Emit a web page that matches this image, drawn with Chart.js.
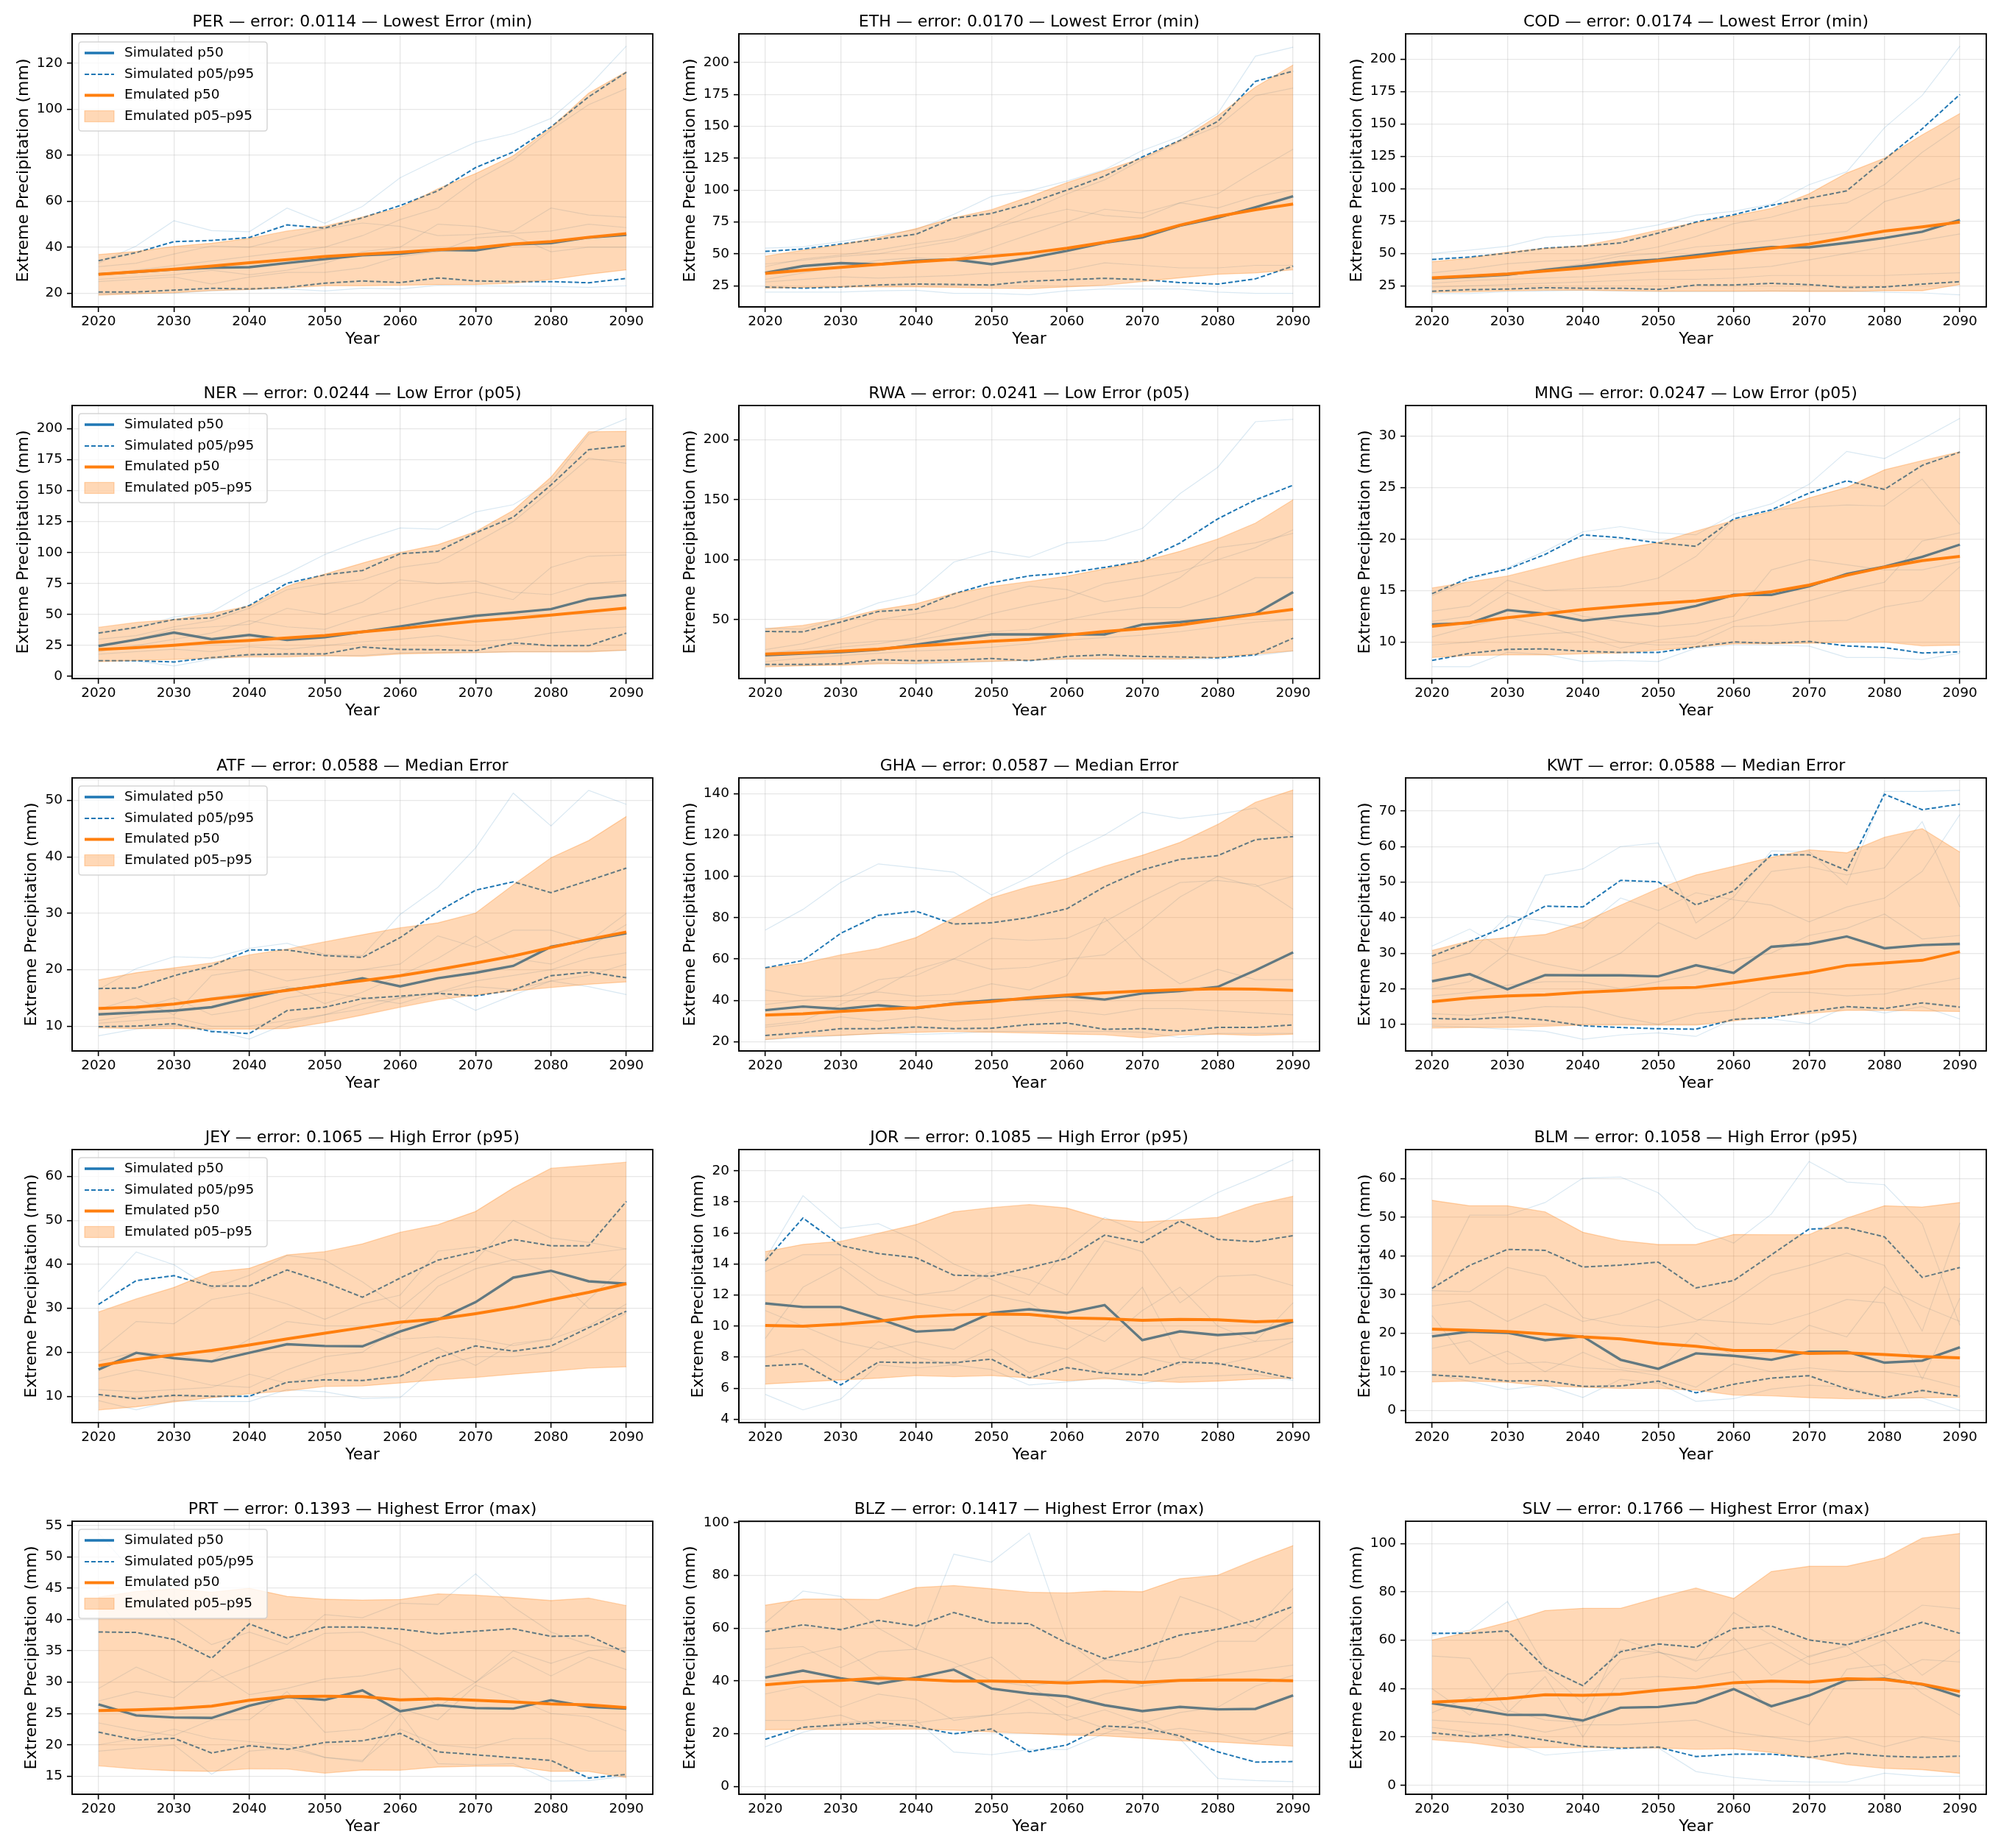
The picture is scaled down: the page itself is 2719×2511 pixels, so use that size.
<!DOCTYPE html>
<html><head><meta charset="utf-8">
<script src="https://cdn.jsdelivr.net/npm/chart.js@4.4.1/dist/chart.umd.min.js"></script>
<style>
html,body{margin:0;padding:0;background:#fff;}
#page{position:relative;width:2719px;height:2511px;background:#fff;overflow:hidden;}
#page canvas{position:absolute;}
</style></head><body><div id="page"></div>
<script>
// ---------------- data ----------------
const YEARS = [2020,2025,2030,2035,2040,2045,2050,2055,2060,2065,2070,2075,2080,2085,2090];
const X_TICKS = [2020,2030,2040,2050,2060,2070,2080,2090];

// PER
const perTitle = 'PER — error: 0.0114 — Lowest Error (min)';
const perSim50 = [28.2,29.2,30.3,31.0,31.3,33.1,34.8,36.5,37.1,38.8,38.6,41.2,41.8,44.2,45.4];
const perSim05 = [20.5,20.5,21.3,22.1,21.8,22.5,24.3,25.3,24.6,26.6,25.3,25.0,25.0,24.5,26.4];
const perSim95 = [34.1,37.6,42.4,42.9,44.2,49.7,48.3,52.8,58.1,64.5,74.6,81.4,92.3,105.4,116.1];
const perEmu50 = [28.2,29.3,30.4,31.8,33.2,34.6,35.9,36.9,37.8,38.9,39.7,41.4,42.4,44.3,45.9];
const perEmu05 = [19.1,19.7,20.2,21.1,21.6,22.3,23.2,23.2,23.4,23.7,23.7,24.3,25.9,28.2,30.1];
const perEmu95 = [36.8,38.1,40.3,41.7,43.8,47.0,49.1,53.1,57.1,65.4,72.0,79.8,92.0,107.0,116.4];
const perMembers = [
 [33.0,40.5,51.5,47.2,46.7,57.0,50.4,57.7,70.2,78.2,85.6,89.4,96.0,110.0,127.5],
 [19.5,19.8,20.0,21.0,21.6,21.8,20.9,22.1,21.8,23.4,23.2,23.0,22.9,22.5,23.2],
 [31.5,33.0,37.0,40.5,40.0,44.0,48.0,50.5,49.0,45.0,45.5,47.0,57.0,54.0,53.0],
 [26.0,27.0,28.0,30.0,28.0,30.0,33.0,38.0,40.0,50.0,49.0,46.0,47.0,50.0,48.5],
 [25.0,26.0,27.0,24.0,27.0,29.0,29.0,31.0,36.0,38.0,44.0,45.0,38.0,40.0,40.0],
 [28.0,30.0,32.0,34.0,36.0,38.0,40.0,45.0,52.0,57.0,69.0,78.0,91.0,102.0,109.0]];
const perYTicks = [20,40,60,80,100,120];
const perYRange = [14.0,132.8];

// ETH
const ethTitle = 'ETH — error: 0.0170 — Lowest Error (min)';
const ethSim50 = [35.2,40.4,42.7,41.7,44.6,45.6,41.9,46.7,52.3,58.7,62.9,72.1,78.3,86.5,95.2];
const ethSim05 = [24.0,23.1,24.0,25.6,26.3,26.0,25.6,28.5,29.8,30.8,29.8,27.5,26.3,30.4,40.4];
const ethSim95 = [51.9,53.8,57.7,61.5,65.4,77.9,81.7,89.8,100.0,111.0,126.0,139.0,153.8,185.2,193.3];
const ethEmu50 = [34.6,37.1,39.4,41.7,43.7,45.6,48.1,50.6,54.4,59.0,64.4,72.5,79.4,84.6,89.0];
const ethEmu05 = [23.1,23.7,24.0,24.0,24.0,23.7,23.1,22.7,24.0,25.4,28.3,31.2,34.0,35.0,37.5];
const ethEmu95 = [48.1,52.9,57.1,62.9,69.8,78.3,84.6,94.8,105.8,115.4,125.0,139.0,158.3,180.8,198.1];
const ethMembers = [
 [54.5,55.5,59.5,64.5,69.0,81.0,95.0,99.5,107.0,116.0,131.0,142.0,160.0,205.0,212.0],
 [20.0,20.0,20.0,21.0,21.5,19.0,19.0,18.0,21.0,22.5,22.5,22.5,20.0,19.0,19.0],
 [40.0,46.0,49.0,53.0,58.0,62.0,70.0,84.0,97.0,108.0,124.0,138.0,150.0,174.0,180.0],
 [30.0,35.0,40.0,45.0,47.0,45.0,55.0,65.0,75.0,85.0,82.0,90.0,97.0,115.0,132.0],
 [42.0,45.0,48.0,50.0,55.0,60.0,70.0,78.0,85.0,80.0,78.0,90.0,86.0,95.0,100.0],
 [28.0,30.0,32.0,31.0,32.0,33.0,35.0,36.0,37.0,43.0,41.0,39.0,39.0,41.0,41.0]];
const ethYTicks = [25,50,75,100,125,150,175,200];
const ethYRange = [8.4,222.5];

// COD
const codTitle = 'COD — error: 0.0174 — Lowest Error (min)';
const codSim50 = [30.7,32.0,33.5,37.3,40.2,43.4,45.3,48.7,52.1,54.9,54.7,58.1,61.9,66.7,75.8];
const codSim05 = [20.8,22.0,22.5,23.5,23.1,23.1,22.2,25.6,25.6,26.9,25.9,23.7,24.1,26.3,28.2];
const codSim95 = [45.3,47.2,50.2,54.0,55.7,58.1,65.7,74.2,79.9,87.1,92.6,98.3,122.5,146.2,172.7];
const codEmu50 = [31.1,32.6,34.1,36.4,38.6,41.5,44.3,47.2,50.6,54.0,57.2,62.3,67.2,70.5,74.2];
const codEmu05 = [19.9,20.3,21.2,21.6,21.6,21.2,20.8,20.8,20.8,20.8,20.6,20.6,21.2,21.2,25.9];
const codEmu95 = [43.6,46.4,51.0,54.0,55.9,61.6,68.0,73.7,79.0,84.7,96.0,112.1,123.5,141.5,158.0];
const codMembers = [
 [50.0,52.5,55.5,62.5,64.5,67.0,72.0,79.5,82.5,88.0,103.0,113.0,147.0,172.0,210.0],
 [19.0,19.0,20.5,21.0,21.5,21.0,20.5,20.5,20.5,21.0,21.0,21.0,20.0,19.5,18.0],
 [35.0,38.0,42.0,44.0,45.0,50.0,55.0,63.0,73.0,78.0,86.0,89.0,103.0,128.0,148.0],
 [30.0,33.0,35.0,38.0,42.0,48.0,50.0,55.0,57.0,60.0,64.0,67.0,90.0,98.0,108.0],
 [27.0,29.0,30.0,31.0,32.0,34.0,36.0,37.0,38.0,40.0,45.0,50.0,55.0,60.0,65.0],
 [24.0,25.0,26.0,27.0,28.0,29.0,30.0,30.0,31.0,33.0,33.0,33.0,33.0,34.0,35.0]];
const codYTicks = [25,50,75,100,125,150,175,200];
const codYRange = [8.7,219.5];

// NER
const nerTitle = 'NER — error: 0.0244 — Low Error (p05)';
const nerSim50 = [24.6,29.7,35.4,30.1,33.5,29.5,31.7,36.0,40.4,45.0,48.9,51.5,54.3,62.4,65.7];
const nerSim05 = [12.7,12.7,11.7,15.2,17.6,18.2,18.2,23.8,21.8,21.6,20.8,27.1,24.8,24.8,35.0];
const nerSim95 = [35.0,39.6,45.9,47.3,57.2,75.2,82.0,85.5,99.0,101.0,115.8,128.5,154.5,183.0,186.0];
const nerEmu50 = [21.8,23.2,25.1,27.5,29.1,31.1,33.1,36.0,38.6,41.6,44.6,46.9,49.5,52.3,55.2];
const nerEmu05 = [11.9,12.9,13.7,14.9,15.8,15.8,16.6,16.2,18.2,18.8,19.2,19.8,19.8,19.8,21.2];
const nerEmu95 = [39.6,43.6,45.9,50.9,56.8,72.7,82.6,91.5,100.0,106.3,116.8,134.0,160.8,197.4,197.8];
const nerMembers = [
 [35.0,39.0,48.0,52.0,69.7,83.0,98.4,110.0,119.8,118.8,132.7,138.6,157.0,195.4,208.0],
 [13.0,12.5,8.5,14.0,17.0,17.5,17.0,17.0,19.0,19.5,19.5,20.0,20.0,20.5,21.0],
 [30.0,33.0,40.0,45.0,55.0,70.0,75.0,78.0,88.0,92.0,108.0,125.0,150.0,176.0,172.0],
 [20.0,25.0,30.0,35.0,45.0,40.0,38.0,48.0,55.0,63.0,68.0,62.0,88.0,97.0,98.0],
 [25.0,30.0,38.0,40.0,42.0,55.0,50.0,60.0,78.0,75.0,77.0,68.0,66.0,75.0,77.0],
 [18.0,20.0,22.0,20.0,24.0,22.0,25.0,28.0,30.0,33.0,28.0,30.0,35.0,38.0,40.0]];
const nerYTicks = [0,25,50,75,100,125,150,175,200];
const nerYRange = [-1.7,218.6];

// RWA
const rwaTitle = 'RWA — error: 0.0241 — Low Error (p05)';
const rwaSim50 = [20.3,21.7,23.0,25.0,29.1,33.6,37.7,37.7,37.7,37.7,45.9,48.0,51.0,55.1,73.0];
const rwaSim05 = [12.7,12.7,13.1,16.6,15.8,16.2,17.6,15.8,19.3,20.7,19.3,18.9,18.2,20.7,34.6];
const rwaSim95 = [40.2,39.8,48.0,56.8,58.6,71.5,80.7,86.5,88.9,93.6,98.8,113.9,134.0,149.8,162.1];
const rwaEmu50 = [21.3,22.3,23.8,25.4,28.1,29.9,32.0,33.6,37.1,40.2,42.4,45.5,50.0,54.5,58.6];
const rwaEmu05 = [10.7,11.5,12.1,13.1,13.5,14.5,15.2,16.2,17.2,17.2,17.2,17.2,18.6,21.3,24.0];
const rwaEmu95 = [42.4,45.3,50.6,58.2,63.3,71.9,77.7,81.8,86.3,92.4,98.6,107.0,117.2,130.5,150.0];
const rwaMembers = [
 [43.0,42.0,52.0,64.0,71.0,98.0,107.0,102.0,114.0,116.0,126.0,155.0,177.0,215.0,217.0],
 [12.0,12.0,13.0,14.0,13.0,14.0,15.0,16.0,17.0,17.0,17.0,17.0,17.0,20.0,24.0],
 [25.0,30.0,40.0,50.0,55.0,60.0,70.0,78.0,75.0,65.0,70.0,85.0,110.0,114.0,122.0],
 [20.0,22.0,27.0,30.0,35.0,45.0,55.0,62.0,68.0,80.0,85.0,90.0,100.0,110.0,125.0],
 [22.0,25.0,30.0,32.0,33.0,38.0,40.0,42.0,50.0,56.0,60.0,60.0,70.0,85.0,85.0],
 [15.0,18.0,20.0,22.0,24.0,25.0,27.0,30.0,33.0,35.0,37.0,40.0,44.0,48.0,50.0]];
const rwaYTicks = [50,100,150,200];
const rwaYRange = [0.9,228.5];

// MNG
const mngTitle = 'MNG — error: 0.0247 — Low Error (p05)';
const mngSim50 = [11.71,11.83,13.1,12.74,12.07,12.48,12.79,13.5,14.57,14.57,15.4,16.6,17.31,18.26,19.45];
const mngSim05 = [8.21,8.9,9.29,9.33,9.1,8.98,8.98,9.52,10.0,9.88,10.05,9.62,9.45,8.93,9.05];
const mngSim95 = [14.69,16.24,17.07,18.5,20.4,20.12,19.62,19.29,21.95,22.83,24.45,25.64,24.81,27.14,28.43];
const mngEmu50 = [11.52,11.9,12.36,12.74,13.14,13.45,13.74,13.98,14.5,14.88,15.52,16.48,17.26,17.9,18.31];
const mngEmu05 = [8.5,8.69,8.74,8.74,8.86,8.93,9.21,9.52,9.81,9.81,9.88,9.98,10.0,9.62,9.69];
const mngEmu95 = [15.24,15.83,16.4,17.31,18.26,19.05,19.64,20.76,21.79,22.67,23.98,25.0,26.71,27.6,28.45];
const mngMembers = [
 [14.5,16.0,17.2,18.8,20.7,21.2,20.6,20.4,22.4,23.4,25.3,28.5,27.8,29.7,31.7],
 [7.6,7.6,9.0,8.8,8.1,8.2,8.1,9.4,9.7,9.7,9.6,8.5,8.5,8.3,8.9],
 [13.0,13.5,16.0,15.0,15.2,15.4,16.2,18.3,21.9,22.8,23.1,23.3,23.2,25.8,21.4],
 [10.5,11.5,12.4,11.5,10.5,9.4,10.2,10.6,12.0,13.0,14.0,15.0,15.8,19.8,20.6],
 [12.0,12.5,14.8,13.5,12.5,12.0,11.5,11.8,12.5,17.0,18.0,17.5,17.0,17.0,17.8],
 [9.7,10.0,10.5,10.8,11.0,10.0,9.7,9.8,11.5,11.6,12.0,12.1,13.4,14.0,17.3]];
const mngYTicks = [10,15,20,25,30];
const mngYRange = [6.45,32.95];

// ATF
const atfTitle = 'ATF — error: 0.0588 — Median Error';
const atfSim50 = [12.09,12.4,12.75,13.36,15.01,16.45,17.19,18.5,17.06,18.5,19.46,20.68,24.07,25.25,26.47];
const atfSim05 = [9.91,10.0,10.44,9.04,8.69,12.75,13.36,14.88,15.32,15.8,15.36,16.4,18.93,19.59,18.58];
const atfSim95 = [16.67,16.75,18.93,20.68,23.51,23.51,22.51,22.2,25.69,30.26,34.1,35.58,33.66,35.8,38.02];
const atfEmu50 = [13.14,13.36,13.92,14.79,15.53,16.32,17.28,18.06,18.93,20.02,21.2,22.42,23.94,25.38,26.69];
const atfEmu05 = [9.7,9.56,9.56,9.48,9.48,9.56,10.65,11.96,13.36,14.66,15.53,16.23,16.84,17.41,17.84];
const atfEmu95 = [18.19,19.46,20.33,21.2,22.64,23.64,24.95,26.21,27.43,28.3,30.04,35.05,39.85,42.9,47.17];
const atfMembers = [
 [16.5,20.2,22.3,22.1,23.8,24.7,22.7,22.5,29.8,34.6,41.6,51.3,45.5,51.8,49.3],
 [8.3,9.5,10.2,9.3,7.7,10.5,12.0,14.0,15.0,16.0,12.8,15.5,18.0,17.0,15.6],
 [13.0,15.0,12.0,19.0,20.0,18.0,19.0,20.0,21.0,26.0,24.0,27.0,27.0,25.0,30.0],
 [11.0,12.0,14.0,15.0,16.0,17.0,14.0,16.0,19.0,22.0,26.0,22.0,21.0,24.0,28.0],
 [12.0,13.0,15.0,12.0,13.0,15.0,16.0,15.0,14.0,16.0,18.0,19.0,20.0,22.0,23.0],
 [10.5,11.0,11.5,10.0,10.0,11.0,12.0,13.0,15.0,16.0,17.0,16.5,18.0,19.0,21.0]];
const atfYTicks = [10,20,30,40,50];
const atfYRange = [5.6,54.0];

// GHA
const ghaTitle = 'GHA — error: 0.0587 — Median Error';
const ghaSim50 = [35.2,37.0,35.8,37.6,36.1,38.5,40.0,40.8,42.0,40.4,43.3,44.5,46.5,54.5,63.2];
const ghaSim05 = [23.0,24.3,26.3,26.3,27.1,26.3,26.5,28.3,29.0,26.0,26.3,25.1,26.9,26.9,28.1];
const ghaSim95 = [55.7,59.3,72.4,81.1,83.1,76.9,77.5,80.1,84.3,95.0,103.1,108.2,110.0,117.7,119.2];
const ghaEmu50 = [32.9,33.5,34.6,35.6,36.4,38.2,39.4,41.2,42.6,43.6,44.5,45.1,45.6,45.4,44.8];
const ghaEmu05 = [21.0,22.5,23.0,23.9,24.5,24.9,24.5,24.2,23.7,23.3,21.9,23.3,23.6,23.0,23.6];
const ghaEmu95 = [55.5,57.9,62.0,65.0,70.4,79.9,89.6,95.0,98.9,104.9,110.2,116.4,125.1,135.8,141.8];
const ghaMembers = [
 [74.0,84.0,97.0,106.0,104.0,102.0,91.0,99.5,111.0,120.0,131.0,128.0,130.0,133.0,120.0],
 [21.0,22.0,23.0,24.0,23.5,24.0,25.0,25.0,25.0,25.0,24.5,22.0,24.0,24.0,24.0],
 [45.0,42.0,42.0,50.0,52.0,60.0,70.0,69.0,70.0,78.0,88.0,97.0,98.0,96.0,84.0],
 [28.0,30.0,38.0,45.0,55.0,60.0,55.0,56.0,60.0,62.0,75.0,90.0,100.0,95.0,100.0],
 [38.0,40.0,42.0,44.0,42.0,43.0,48.0,45.0,52.0,80.0,60.0,48.0,55.0,50.0,50.0],
 [27.0,29.0,32.0,30.0,32.0,30.0,31.0,33.0,35.0,33.0,36.0,36.0,35.0,34.0,33.0]];
const ghaYTicks = [20,40,60,80,100,120,140];
const ghaYRange = [15.5,147.6];

// KWT
const kwtTitle = 'KWT — error: 0.0588 — Median Error';
const kwtSim50 = [22.11,24.12,19.83,23.84,23.77,23.77,23.49,26.61,24.46,31.8,32.63,34.71,31.38,32.28,32.63];
const kwtSim05 = [11.66,11.38,12.01,11.18,9.58,9.1,8.75,8.62,11.38,11.87,13.6,14.98,14.43,16.02,14.84];
const kwtSim95 = [29.17,33.32,37.68,43.22,43.01,50.48,50.07,43.56,47.51,57.68,57.68,53.25,74.71,70.35,71.94];
const kwtEmu50 = [16.37,17.4,17.96,18.3,19.0,19.48,20.17,20.38,21.7,23.15,24.53,26.54,27.23,27.99,30.42];
const kwtEmu05 = [8.96,9.1,9.1,9.45,9.79,9.79,9.79,9.79,10.97,12.21,13.04,13.94,13.94,13.74,13.6];
const kwtEmu95 = [30.76,33.46,34.36,35.26,38.65,43.49,48.2,52.01,54.43,56.99,59.07,58.24,62.6,65.02,58.44];
const kwtMembers = [
 [32.0,36.8,30.5,51.9,53.7,60.0,61.0,38.5,45.8,58.8,58.6,49.3,75.5,75.5,75.8],
 [9.5,9.2,8.6,8.0,5.8,7.0,7.6,6.6,11.5,11.5,10.2,15.0,13.2,15.0,11.5],
 [27.0,30.0,40.5,39.0,37.0,45.5,42.0,47.0,45.0,43.5,38.8,43.0,45.5,53.0,69.0],
 [20.0,22.0,30.0,27.0,25.0,30.0,38.6,34.0,40.0,53.0,54.3,52.0,54.0,67.0,43.0],
 [18.0,19.0,21.0,22.0,22.0,20.0,22.0,24.0,28.0,30.0,35.0,37.0,41.0,34.0,35.0],
 [13.0,12.5,13.5,15.0,14.8,12.0,10.0,13.0,14.0,19.0,19.0,18.0,18.5,21.0,23.0]];
const kwtYTicks = [10,20,30,40,50,60,70];
const kwtYRange = [2.5,79.3];

// JEY
const jeyTitle = 'JEY — error: 0.1065 — High Error (p95)';
const jeySim50 = [16.08,19.87,18.64,17.92,19.87,21.82,21.43,21.37,24.72,27.39,31.4,36.98,38.54,36.14,35.59];
const jeySim05 = [10.39,9.44,10.22,10.0,10.0,13.18,13.73,13.57,14.57,18.75,21.43,20.26,21.43,25.61,29.34];
const jeySim95 = [30.9,36.31,37.42,35.03,35.03,38.71,35.92,32.52,36.87,40.94,42.89,45.67,44.23,44.23,54.31];
const jeyEmu50 = [16.97,18.36,19.42,20.42,21.65,23.04,24.33,25.61,26.83,27.56,28.78,30.18,31.96,33.63,35.59];
const jeyEmu05 = [6.88,7.6,8.72,9.67,10.56,11.23,12.23,12.34,13.01,13.73,14.29,15.02,15.69,16.41,16.69];
const jeyEmu95 = [29.17,32.13,34.75,38.26,39.1,42.16,42.89,44.67,47.29,49.02,52.03,57.38,61.84,62.51,63.23];
const jeyMembers = [
 [33.8,42.8,39.9,34.5,37.5,42.0,41.0,36.0,30.0,37.0,41.0,50.0,46.0,45.0,43.5],
 [9.0,6.9,9.0,8.8,8.8,11.5,11.0,9.5,9.7,17.0,19.0,19.0,20.0,24.0,29.0],
 [20.0,27.0,26.5,32.0,33.5,31.0,27.5,31.0,33.0,43.0,44.0,41.0,41.5,42.5,43.5],
 [14.0,16.0,14.5,12.5,12.0,16.0,19.0,20.0,26.0,35.0,39.0,41.0,38.0,30.0,30.0],
 [18.0,20.0,19.5,18.0,23.0,27.0,26.0,26.0,23.0,23.5,23.0,21.5,23.0,32.0,40.0],
 [11.5,11.0,11.5,12.0,15.0,13.0,15.0,16.0,18.0,21.0,17.0,22.0,23.0,26.0,31.0]];
const jeyYTicks = [10,20,30,40,50,60];
const jeyYRange = [4.0,66.1];

// JOR
const jorTitle = 'JOR — error: 0.1085 — High Error (p95)';
const jorSim50 = [11.46,11.23,11.23,10.48,9.64,9.77,10.85,11.08,10.85,11.35,9.09,9.66,9.42,9.57,10.29];
const jorSim05 = [7.43,7.56,6.21,7.68,7.64,7.64,7.87,6.66,7.32,6.96,6.85,7.68,7.6,7.13,6.61];
const jorSim95 = [14.2,16.96,15.19,14.67,14.4,13.28,13.22,13.75,14.36,15.86,15.38,16.77,15.59,15.43,15.83];
const jorEmu50 = [10.04,9.99,10.12,10.31,10.59,10.72,10.77,10.75,10.53,10.48,10.37,10.43,10.4,10.28,10.36];
const jorEmu05 = [6.26,6.4,6.53,6.64,6.81,6.74,6.81,6.66,6.48,6.61,6.48,6.37,6.45,6.58,6.64];
const jorEmu95 = [14.8,15.26,15.46,15.98,16.54,17.36,17.63,17.83,17.6,16.89,16.7,16.85,17.0,17.83,18.36];
const jorMembers = [
 [14.3,18.4,16.3,16.6,15.5,14.0,13.0,12.0,15.0,17.0,16.0,17.3,18.6,19.6,20.7],
 [5.6,4.6,5.3,7.5,7.3,7.5,7.2,6.2,6.4,6.7,6.3,6.7,6.8,6.9,6.5],
 [13.5,14.6,14.6,13.0,12.0,12.3,13.5,13.0,12.0,15.5,14.8,11.5,13.2,13.3,12.6],
 [9.2,12.5,13.8,12.0,11.5,11.0,12.0,11.5,10.0,9.0,11.0,12.5,10.0,9.0,11.5],
 [11.0,10.0,9.0,8.5,9.0,8.5,10.0,9.0,8.5,10.0,12.5,8.0,7.5,8.0,9.0],
 [8.0,8.5,7.0,9.0,8.0,7.5,8.5,7.0,8.0,7.0,8.0,7.5,8.5,9.0,9.2]];
const jorYTicks = [4,6,8,10,12,14,16,18,20];
const jorYRange = [3.78,21.37];

// BLM
const blmTitle = 'BLM — error: 0.1058 — High Error (p95)';
const blmSim50 = [19.11,20.38,20.06,18.16,19.11,13.08,10.73,14.73,14.1,13.08,15.17,15.17,12.32,12.83,16.32];
const blmSim05 = [9.14,8.63,7.56,7.68,6.16,6.29,7.56,4.51,6.73,8.32,8.95,5.52,3.3,5.14,3.62];
const blmSim95 = [31.56,37.52,41.65,41.4,37.08,37.59,38.35,31.68,33.59,40.25,46.92,47.24,44.89,34.41,36.95];
const blmEmu50 = [21.02,20.7,20.38,19.75,18.98,18.48,17.27,16.57,15.49,15.49,14.73,14.86,14.41,13.9,13.59];
const blmEmu05 = [7.37,7.56,7.24,6.29,5.97,5.65,5.65,5.21,3.94,3.75,3.24,2.98,2.98,3.24,3.3];
const blmEmu95 = [54.35,52.95,52.95,51.37,46.1,43.94,42.92,42.92,45.52,45.46,45.46,49.78,52.95,52.63,53.78];
const blmMembers = [
 [31.0,50.5,50.5,53.8,60.1,60.4,56.3,47.1,43.3,50.8,64.4,59.1,58.4,48.3,22.0],
 [9.5,7.5,5.4,6.5,3.3,8.0,7.0,2.3,3.0,5.5,6.5,6.0,3.4,3.2,0.0],
 [31.0,30.7,37.0,34.7,24.0,22.0,21.5,23.0,28.3,35.0,37.5,40.7,37.5,20.5,48.5],
 [27.0,28.3,23.0,27.5,23.0,25.0,28.7,23.5,22.8,22.2,25.0,28.7,27.8,8.0,29.0],
 [24.5,12.0,15.3,10.0,15.0,11.0,10.0,20.0,14.0,15.0,22.0,19.0,32.0,27.0,23.0],
 [16.0,18.0,12.0,12.5,11.0,10.5,9.0,6.0,12.0,10.0,11.0,10.0,10.0,8.5,6.0]];
const blmYTicks = [0,10,20,30,40,50,60];
const blmYRange = [-3.2,67.5];

// PRT
const prtTitle = 'PRT — error: 0.1393 — Highest Error (max)';
const prtSim50 = [26.45,24.69,24.37,24.29,26.25,27.63,27.16,28.69,25.35,26.33,25.86,25.78,27.12,26.06,25.78];
const prtSim05 = [22.02,20.76,21.04,18.69,19.86,19.27,20.37,20.65,21.82,18.88,18.41,17.94,17.51,14.69,15.27];
const prtSim95 = [38.02,37.94,36.84,33.82,39.31,37.04,38.8,38.8,38.49,37.71,38.14,38.53,37.31,37.43,34.69];
const prtEmu50 = [25.47,25.59,25.78,26.18,27.12,27.71,27.75,27.71,27.16,27.35,27.12,26.84,26.53,26.37,25.94];
const prtEmu05 = [16.65,16.14,15.86,15.75,16.18,16.14,15.47,15.98,15.94,16.45,16.57,16.57,15.75,15.75,14.76];
const prtEmu95 = [43.59,44.49,44.88,44.37,45.0,43.71,43.24,43.12,43.2,44.1,43.9,43.51,43.04,43.43,42.22];
const prtMembers = [
 [53.8,47.0,40.0,36.0,38.0,36.0,40.8,40.3,42.6,42.4,47.3,42.0,38.0,36.0,35.0],
 [19.0,19.5,20.0,15.3,19.0,19.5,18.0,17.3,25.0,17.0,16.8,17.0,14.2,14.3,15.0],
 [29.0,32.4,30.0,30.2,32.5,35.0,37.8,38.0,36.0,33.0,30.0,35.0,33.0,35.0,35.5],
 [27.0,28.5,27.5,32.0,28.0,29.0,30.5,31.0,32.2,26.0,30.0,34.0,31.0,34.0,32.0],
 [23.5,22.3,21.5,24.0,24.0,28.5,22.0,22.5,25.8,24.0,29.5,27.5,25.0,24.5,22.2],
 [20.0,21.0,22.5,21.0,20.5,20.0,18.0,17.5,22.5,20.0,19.5,21.0,21.0,19.0,19.0]];
const prtYTicks = [15,20,25,30,35,40,45,50,55];
const prtYRange = [12.1,55.7];

// BLZ
const blzTitle = 'BLZ — error: 0.1417 — Highest Error (max)';
const blzSim50 = [41.26,43.87,40.99,38.94,41.26,44.24,37.08,35.22,34.11,30.76,28.53,30.11,29.18,29.37,34.48];
const blzSim05 = [17.84,22.4,23.33,24.26,22.68,19.89,21.75,13.1,15.71,22.86,22.21,19.14,13.1,9.2,9.39];
const blzSim95 = [58.64,61.25,59.39,62.92,60.78,65.89,61.99,61.71,54.28,48.42,52.42,57.34,59.57,62.92,68.22];
const blzEmu50 = [38.48,39.68,40.15,40.99,40.61,39.87,39.87,39.68,39.22,39.87,39.41,40.15,40.33,40.33,40.06];
const blzEmu05 = [21.47,21.56,21.56,21.56,21.75,21.28,20.63,20.07,19.42,19.14,18.22,17.29,16.82,15.99,15.24];
const blzEmu95 = [68.68,71.0,71.0,70.82,75.37,76.12,74.91,73.61,73.33,74.07,73.79,78.72,80.02,85.87,91.26];
const blzMembers = [
 [62.0,74.0,72.0,60.0,52.0,88.0,85.0,96.0,55.0,44.0,38.0,40.0,42.0,44.0,46.0],
 [15.0,20.5,24.0,25.0,25.0,13.0,12.0,14.0,14.0,20.0,25.0,18.0,3.0,2.2,1.8],
 [52.0,53.0,45.0,51.0,52.0,47.0,40.0,38.0,30.0,35.0,38.0,72.0,67.0,60.0,75.0],
 [45.0,50.0,53.0,42.0,40.0,45.0,49.0,38.0,40.0,48.0,47.0,49.0,55.0,55.0,66.0],
 [35.0,38.0,30.0,35.0,33.0,25.0,27.0,33.0,25.0,29.0,24.0,28.0,30.0,38.0,42.0],
 [25.0,25.0,27.0,22.0,24.0,26.0,27.0,28.0,27.0,22.0,20.0,22.0,20.0,17.0,21.0]];
const blzYTicks = [0,20,40,60,80,100];
const blzYRange = [-3.0,100.5];

// SLV
const slvTitle = 'SLV — error: 0.1766 — Highest Error (max)';
const slvSim50 = [33.91,31.68,29.14,29.14,26.8,32.08,32.39,34.21,39.8,32.69,37.16,43.55,44.06,41.73,36.75];
const slvSim05 = [21.73,20.2,21.02,18.68,16.14,15.33,15.84,11.88,12.89,12.89,11.57,13.3,12.08,11.57,12.08];
const slvSim95 = [62.84,62.84,63.86,48.63,41.22,55.23,58.48,57.06,64.87,65.89,60.1,58.07,62.54,67.41,62.84];
const slvEmu50 = [34.42,35.13,35.94,37.46,37.26,37.66,39.29,40.51,42.44,43.05,42.74,44.06,43.76,41.83,38.78];
const slvEmu05 = [18.88,17.66,15.63,15.63,15.63,15.63,15.43,14.92,15.13,13.6,11.57,8.53,7.01,6.5,4.97];
const slvEmu95 = [60.1,63.35,67.41,72.28,73.2,73.2,77.56,81.62,77.26,88.43,90.56,90.56,94.01,102.23,104.16];
const slvMembers = [
 [62.0,64.0,76.0,49.0,41.0,56.0,55.0,52.0,71.5,62.0,53.0,58.0,64.5,74.5,73.0],
 [24.0,22.0,18.0,12.5,13.8,15.0,15.5,5.7,3.3,1.8,1.4,1.4,5.0,3.7,3.7],
 [53.5,52.5,31.0,27.0,26.0,60.5,55.5,47.0,61.0,45.5,53.5,57.5,45.0,52.0,51.0],
 [40.0,29.0,46.0,47.5,34.0,52.0,55.0,51.5,55.0,59.0,50.0,53.5,60.0,45.5,56.0],
 [30.0,36.5,30.0,45.0,20.0,44.0,45.0,44.0,47.0,31.0,25.0,48.0,50.0,38.0,29.0],
 [27.0,26.0,25.0,22.0,25.0,25.0,26.0,27.0,22.0,20.0,18.0,20.0,16.0,20.0,18.0]];
const slvYTicks = [0,20,40,60,80,100];
const slvYRange = [-3.7,109.2];

// ---------------- table built from arrays ----------------
const PLOTS = [
 {title:perTitle,s50:perSim50,s05:perSim05,s95:perSim95,e50:perEmu50,e05:perEmu05,e95:perEmu95,mem:perMembers,yt:perYTicks,yr:perYRange},
 {title:ethTitle,s50:ethSim50,s05:ethSim05,s95:ethSim95,e50:ethEmu50,e05:ethEmu05,e95:ethEmu95,mem:ethMembers,yt:ethYTicks,yr:ethYRange},
 {title:codTitle,s50:codSim50,s05:codSim05,s95:codSim95,e50:codEmu50,e05:codEmu05,e95:codEmu95,mem:codMembers,yt:codYTicks,yr:codYRange},
 {title:nerTitle,s50:nerSim50,s05:nerSim05,s95:nerSim95,e50:nerEmu50,e05:nerEmu05,e95:nerEmu95,mem:nerMembers,yt:nerYTicks,yr:nerYRange},
 {title:rwaTitle,s50:rwaSim50,s05:rwaSim05,s95:rwaSim95,e50:rwaEmu50,e05:rwaEmu05,e95:rwaEmu95,mem:rwaMembers,yt:rwaYTicks,yr:rwaYRange},
 {title:mngTitle,s50:mngSim50,s05:mngSim05,s95:mngSim95,e50:mngEmu50,e05:mngEmu05,e95:mngEmu95,mem:mngMembers,yt:mngYTicks,yr:mngYRange},
 {title:atfTitle,s50:atfSim50,s05:atfSim05,s95:atfSim95,e50:atfEmu50,e05:atfEmu05,e95:atfEmu95,mem:atfMembers,yt:atfYTicks,yr:atfYRange},
 {title:ghaTitle,s50:ghaSim50,s05:ghaSim05,s95:ghaSim95,e50:ghaEmu50,e05:ghaEmu05,e95:ghaEmu95,mem:ghaMembers,yt:ghaYTicks,yr:ghaYRange},
 {title:kwtTitle,s50:kwtSim50,s05:kwtSim05,s95:kwtSim95,e50:kwtEmu50,e05:kwtEmu05,e95:kwtEmu95,mem:kwtMembers,yt:kwtYTicks,yr:kwtYRange},
 {title:jeyTitle,s50:jeySim50,s05:jeySim05,s95:jeySim95,e50:jeyEmu50,e05:jeyEmu05,e95:jeyEmu95,mem:jeyMembers,yt:jeyYTicks,yr:jeyYRange},
 {title:jorTitle,s50:jorSim50,s05:jorSim05,s95:jorSim95,e50:jorEmu50,e05:jorEmu05,e95:jorEmu95,mem:jorMembers,yt:jorYTicks,yr:jorYRange},
 {title:blmTitle,s50:blmSim50,s05:blmSim05,s95:blmSim95,e50:blmEmu50,e05:blmEmu05,e95:blmEmu95,mem:blmMembers,yt:blmYTicks,yr:blmYRange},
 {title:prtTitle,s50:prtSim50,s05:prtSim05,s95:prtSim95,e50:prtEmu50,e05:prtEmu05,e95:prtEmu95,mem:prtMembers,yt:prtYTicks,yr:prtYRange},
 {title:blzTitle,s50:blzSim50,s05:blzSim05,s95:blzSim95,e50:blzEmu50,e05:blzEmu05,e95:blzEmu95,mem:blzMembers,yt:blzYTicks,yr:blzYRange},
 {title:slvTitle,s50:slvSim50,s05:slvSim05,s95:slvSim95,e50:slvEmu50,e05:slvEmu05,e95:slvEmu95,mem:slvMembers,yt:slvYTicks,yr:slvYRange}
];

// ---------------- layout / style ----------------
const FONT = '"DejaVu Sans", "Liberation Sans", sans-serif';
const BLUE = '#1f77b4', ORANGE = '#ff7f0e';
const BAND = 'rgba(255,127,14,0.3)';
const MEMBER = 'rgba(31,119,180,0.17)';
const GRID = 'rgba(176,176,176,0.3)';
const COL_LEFT = [98, 1004, 1910];
const ROW_TOP = [46, 551, 1057, 1562, 2067];
const AX_W = 789, AX_H = 371;
const PAD_L = 98, PAD_T = 46, PAD_R = 10, PAD_B = 70;
const TICK_FS = 18.5, LABEL_FS = 22, TITLE_FS = 22;
const LW_EMU = 4.0, LW_SIM = 3.4, LW_DASH = 2.0, DASH = [6, 3];

function drawLegend(ctx, a) {
  const x = a.left + 9, y = a.top + 11, w = 256, h = 121, r = 4;
  ctx.save();
  ctx.beginPath();
  ctx.moveTo(x + r, y); ctx.lineTo(x + w - r, y); ctx.quadraticCurveTo(x + w, y, x + w, y + r);
  ctx.lineTo(x + w, y + h - r); ctx.quadraticCurveTo(x + w, y + h, x + w - r, y + h);
  ctx.lineTo(x + r, y + h); ctx.quadraticCurveTo(x, y + h, x, y + h - r);
  ctx.lineTo(x, y + r); ctx.quadraticCurveTo(x, y, x + r, y); ctx.closePath();
  ctx.fillStyle = 'rgba(255,255,255,0.8)'; ctx.fill();
  ctx.strokeStyle = 'rgba(204,204,204,0.8)'; ctx.lineWidth = 1.5; ctx.stroke();
  const hx1 = a.left + 17, hx2 = a.left + 57, tx = a.left + 71;
  const rows = [a.top + 26, a.top + 55, a.top + 83.5, a.top + 112];
  const line = (yy, col, lw, dash) => {
    ctx.beginPath(); ctx.setLineDash(dash || []); ctx.strokeStyle = col; ctx.lineWidth = lw;
    ctx.moveTo(hx1, yy); ctx.lineTo(hx2, yy); ctx.stroke(); ctx.setLineDash([]);
  };
  line(rows[0], BLUE, LW_SIM);
  line(rows[1], BLUE, LW_DASH, DASH);
  line(rows[2], ORANGE, LW_EMU);
  ctx.fillStyle = BAND; ctx.fillRect(hx1, rows[3] - 7.5, hx2 - hx1, 15);
  ctx.strokeStyle = BAND; ctx.lineWidth = 1.2; ctx.strokeRect(hx1, rows[3] - 7.5, hx2 - hx1, 15);
  ctx.fillStyle = '#000'; ctx.font = TICK_FS + 'px ' + FONT;
  ctx.textAlign = 'left'; ctx.textBaseline = 'middle';
  ['Simulated p50', 'Simulated p05/p95', 'Emulated p50', 'Emulated p05–p95']
    .forEach((t, i) => ctx.fillText(t, tx, rows[i]));
  ctx.restore();
}

const decor = {
  id: 'decor',
  afterDatasetsDraw(chart, args, opts) {
    const {ctx, chartArea: a} = chart;
    ctx.save();
    ctx.strokeStyle = '#000'; ctx.lineWidth = 1.8;
    ctx.strokeRect(a.left, a.top, a.right - a.left, a.bottom - a.top);
    ctx.restore();
    if (opts.legend) drawLegend(ctx, a);
  },
  afterDraw(chart, args, opts) {
    const {ctx, chartArea: a} = chart;
    const p = opts.plot;
    ctx.save();
    ctx.fillStyle = '#000';
    ctx.textAlign = 'center'; ctx.textBaseline = 'middle';
    ctx.font = TITLE_FS + 'px ' + FONT;
    ctx.fillText(p.title, (a.left + a.right) / 2, a.top - 15.5);
    ctx.font = LABEL_FS + 'px ' + FONT;
    ctx.fillText('Year', (a.left + a.right) / 2, a.bottom + 44.5);
    ctx.font = TICK_FS + 'px ' + FONT;
    let mw = 0;
    p.yt.forEach(v => { mw = Math.max(mw, ctx.measureText(String(v)).width); });
    const lx = a.left - 13 - mw - 17.7;
    ctx.translate(lx, (a.top + a.bottom) / 2);
    ctx.rotate(-Math.PI / 2);
    ctx.font = LABEL_FS + 'px ' + FONT;
    ctx.fillText('Extreme Precipitation (mm)', 0, 0);
    ctx.restore();
  }
};

const page = document.getElementById('page');
const pts = arr => YEARS.map((x, i) => ({x: x, y: arr[i]}));

PLOTS.forEach((p, k) => {
  const r = Math.floor(k / 3), c = k % 3;
  const cv = document.createElement('canvas');
  const W = PAD_L + AX_W + PAD_R, H = PAD_T + AX_H + PAD_B;
  cv.width = W; cv.height = H;
  cv.style.width = W + 'px'; cv.style.height = H + 'px';
  cv.style.left = (COL_LEFT[c] - PAD_L) + 'px';
  cv.style.top = (ROW_TOP[r] - PAD_T) + 'px';
  page.appendChild(cv);

  const ds = [];
  const base = {pointRadius: 0, pointHoverRadius: 0, tension: 0, fill: false};
  p.mem.forEach(m => ds.push(Object.assign({}, base, {data: pts(m), borderColor: MEMBER, borderWidth: 1.2, order: 50})));
  ds.push(Object.assign({}, base, {data: pts(p.s05), borderColor: BLUE, borderWidth: LW_DASH, borderDash: DASH, order: 41}));
  ds.push(Object.assign({}, base, {data: pts(p.s95), borderColor: BLUE, borderWidth: LW_DASH, borderDash: DASH, order: 41}));
  ds.push(Object.assign({}, base, {data: pts(p.s50), borderColor: BLUE, borderWidth: LW_SIM, order: 40}));
  const lowIdx = ds.length;
  ds.push(Object.assign({}, base, {data: pts(p.e05), borderColor: BAND, borderWidth: 1.3, order: 30}));
  ds.push(Object.assign({}, base, {data: pts(p.e95), borderColor: BAND, borderWidth: 1.3, order: 29, fill: lowIdx, backgroundColor: BAND}));
  ds.push(Object.assign({}, base, {data: pts(p.e50), borderColor: ORANGE, borderWidth: LW_EMU, order: 10}));

  const tickFont = {family: FONT, size: TICK_FS};
  new Chart(cv, {
    type: 'line',
    data: {datasets: ds},
    plugins: [decor],
    options: {
      responsive: false, animation: false, devicePixelRatio: 1, events: [],
      layout: {padding: {left: 0, top: PAD_T, right: PAD_R, bottom: 0}},
      plugins: {legend: {display: false}, title: {display: false}, tooltip: {enabled: false},
                decor: {plot: p, legend: c === 0}},
      scales: {
        x: {
          type: 'linear', min: 2016.5, max: 2093.5,
          afterBuildTicks: s => { s.ticks = X_TICKS.map(v => ({value: v})); },
          afterFit: s => { s.height = PAD_B; },
          ticks: {autoSkip: false, maxRotation: 0, minRotation: 0, padding: 2, color: '#000', font: tickFont,
                  callback: v => String(v)},
          grid: {color: GRID, lineWidth: 1.3, drawTicks: true, tickLength: 7, tickColor: '#000', tickWidth: 1.6},
          border: {display: true, color: '#000', width: 1.8}
        },
        y: {
          type: 'linear', min: p.yr[0], max: p.yr[1],
          afterBuildTicks: s => { s.ticks = p.yt.map(v => ({value: v})); },
          afterFit: s => { s.width = PAD_L; },
          ticks: {autoSkip: false, padding: 6, color: '#000', font: tickFont, callback: v => String(v)},
          grid: {color: GRID, lineWidth: 1.3, drawTicks: true, tickLength: 7, tickColor: '#000', tickWidth: 1.6},
          border: {display: true, color: '#000', width: 1.8}
        }
      }
    }
  });
});
</script></body></html>
